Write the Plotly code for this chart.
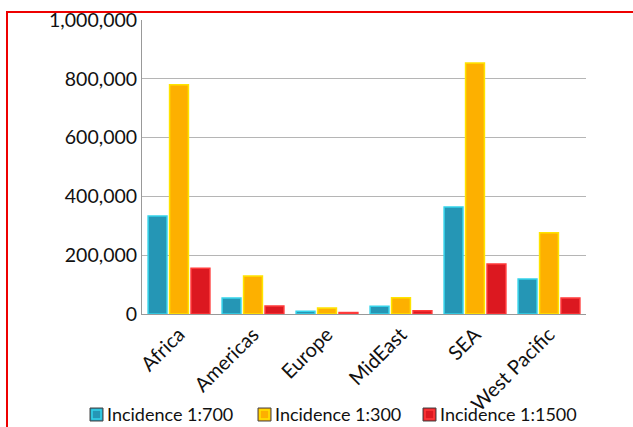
import plotly.graph_objects as go

regions = ["Africa", "Americas", "Europe", "MidEast", "SEA", "West Pacific"]
incidence_700 = [333000, 54000, 9000, 26000, 364000, 119000]
incidence_300 = [780000, 129000, 20000, 55000, 854000, 276000]
incidence_1500 = [156000, 27000, 5000, 11000, 170000, 54000]

series_names = ["Incidence 1:700", "Incidence 1:300", "Incidence 1:1500"]
fill_colors = ["#2596b5", "#fdb000", "#dc1820"]
edge_colors = ["#35d3ea", "#ffe400", "#ff3a3a"]
legend_left_px = [90, 258, 423]  # left edge of each legend swatch

font_family = "Lato, 'Open Sans', sans-serif"

# plot area in pixels
L, R, T, B = 142, 586, 20, 314
W, H = R - L, B - T


def px_x(px):
    return (px - L) / W


def px_y(py):
    return (B - py) / H


fig = go.Figure()
for name, values, fill, edge in zip(series_names,
                                    [incidence_700, incidence_300, incidence_1500],
                                    fill_colors, edge_colors):
    fig.add_trace(go.Bar(
        name=name, x=regions, y=values,
        marker=dict(color=fill, line=dict(color=edge, width=1.5)),
    ))

# legend row drawn below the axis: swatch + label
for name, fill, edge, left in zip(series_names, fill_colors, edge_colors, legend_left_px):
    fig.add_shape(type="rect", xref="paper", yref="paper",
                  x0=px_x(left), x1=px_x(left + 13), y0=px_y(421), y1=px_y(408),
                  fillcolor=fill, line=dict(color="#444444", width=1))
    fig.add_shape(type="rect", xref="paper", yref="paper",
                  x0=px_x(left + 2), x1=px_x(left + 11), y0=px_y(419), y1=px_y(410),
                  fillcolor=fill, line=dict(color=edge, width=1.5))
    fig.add_annotation(xref="paper", yref="paper", x=px_x(left + 15), y=px_y(414),
                       xanchor="left", yanchor="middle", showarrow=False,
                       text=name, font=dict(size=18, color="#111111"))

# outer red frame around the page
fig.add_shape(type="rect", xref="paper", yref="paper",
              x0=px_x(7), x1=1.3, y0=-0.6, y1=px_y(12),
              line=dict(color="#ee0000", width=2), fillcolor="rgba(0,0,0,0)", layer="above")

fig.update_layout(
    width=633, height=427,
    margin=dict(l=L, r=633 - R, t=T, b=427 - B, autoexpand=False),
    paper_bgcolor="white", plot_bgcolor="white",
    barmode="group", bargap=0.13, bargroupgap=0.12,
    font=dict(family=font_family, color="#111111", size=17),
    showlegend=False,
    xaxis=dict(tickangle=-45, showline=True, linecolor="#999999", linewidth=1,
               ticks="", tickfont=dict(size=20), automargin=False),
    yaxis=dict(range=[0, 1000000], dtick=200000, tickformat=",",
               showgrid=True, gridcolor="#b5b5b5", gridwidth=1,
               showline=True, linecolor="#999999", linewidth=1,
               zeroline=False, ticks="", tickfont=dict(size=19.5), automargin=False),
)

fig.write_html("out.html")
